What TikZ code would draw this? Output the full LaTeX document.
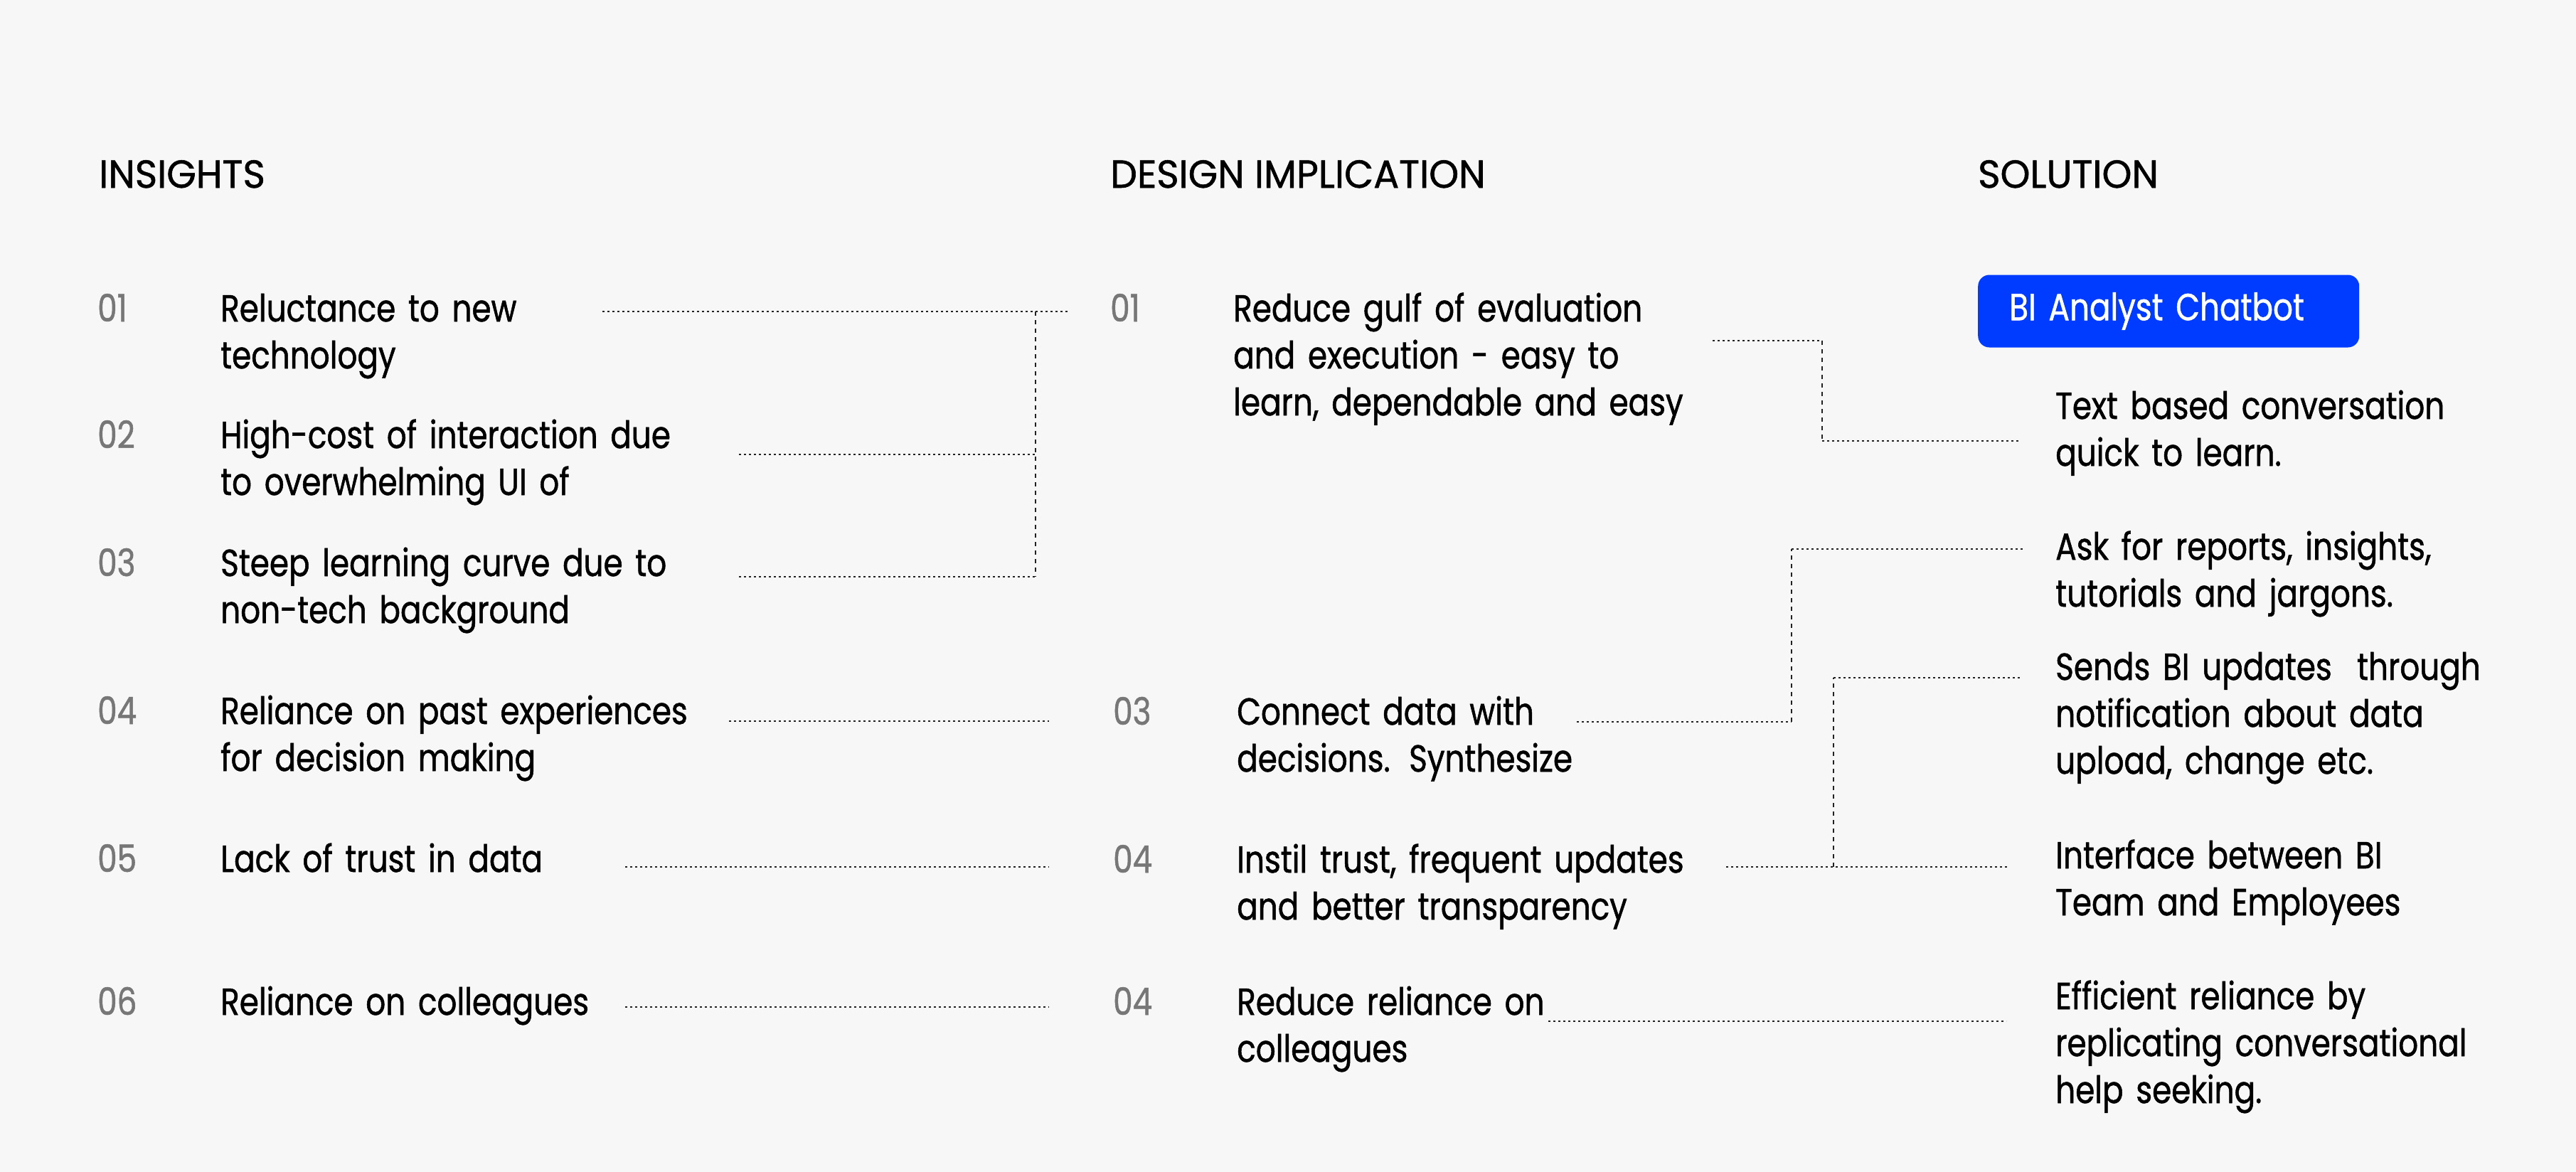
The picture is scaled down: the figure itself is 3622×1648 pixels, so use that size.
\documentclass[tikz,border=0pt]{standalone}
\usepackage{fontspec}
\setmainfont[FakeStretch=0.825,FakeBold=1]{Poppins}
\newfontfamily\headfam[FakeStretch=0.97,FakeBold=1]{Poppins}
\definecolor{bgc}{HTML}{F7F7F7}
\definecolor{numc}{HTML}{777777}
\definecolor{linec}{HTML}{222222}
\definecolor{blueb}{HTML}{003CFF}
\newcommand\bodyfnt{\fontsize{53}{66}\selectfont}
\newcommand\headfnt{\headfam\fontsize{55}{66}\selectfont}
\begin{document}
\begin{tikzpicture}[x=1pt,y=-1pt,
  txt/.style={anchor=base west, inner sep=0pt, text width=900pt, align=left, font=\bodyfnt, text=black},
  num/.style={anchor=base west, inner sep=0pt, font=\bodyfnt, text=numc},
  head/.style={anchor=base west, inner sep=0pt, font=\headfnt, text=black},
  hdot/.style={draw=linec, line width=2.8pt, dash pattern=on 2.8pt off 4.2pt},
  vdash/.style={draw=linec, line width=2.2pt, dash pattern=on 6pt off 6pt}]
\useasboundingbox (0,0) rectangle (3622,1648);
\fill[bgc] (0,0) rectangle (3622,1648);

% headers
\node[head] (h1) at (139,264) {INSIGHTS};
\node[head] (h2) at (1561,264) {DESIGN IMPLICATION};
\node[head] (h3) at (2781,264) {SOLUTION};

% insights
\node[num] (n1) at (137,452) {01};
\node[txt] (i1) at (310,452) {Reluctance to new\\technology};
\node[num] (n2) at (137,630) {02};
\node[txt] (i2) at (310,630) {High-cost of interaction due\\to overwhelming UI of};
\node[num] (n3) at (137,810) {03};
\node[txt] (i3) at (310,810) {Steep learning curve due to\\non-tech background};
\node[num] (n4) at (137,1018) {04};
\node[txt] (i4) at (310,1018) {Reliance on past experiences\\for decision making};
\node[num] (n5) at (137,1226) {05};
\node[txt] (i5) at (310,1226) {Lack of trust in data};
\node[num] (n6) at (137,1427) {06};
\node[txt] (i6) at (310,1427) {Reliance on colleagues};

% design implications
\node[num] (d1n) at (1561,452) {01};
\node[txt] (d1) at (1734,452) {Reduce gulf of evaluation\\and execution - easy to\\learn, dependable and easy};
\node[num] (d3n) at (1565,1019) {03};
\node[txt] (d3) at (1739,1019) {Connect data with\\decisions. Synthesize};
\node[num] (d4n) at (1565,1227) {04};
\node[txt] (d4) at (1739,1227) {Instil trust, frequent updates\\and better transparency};
\node[num] (d5n) at (1565,1427) {04};
\node[txt] (d5) at (1739,1427) {Reduce reliance on\\colleagues};

% solution
\node[anchor=west, fill=blueb, rounded corners=16pt, minimum height=102pt, inner xsep=44pt, inner ysep=0pt,
      text width=448pt, align=left, font=\bodyfnt, text=white] (bot) at (2781,437.5) {\mbox{BI Analyst Chatbot}};
\node[txt] (s1) at (2890,589) {Text based conversation\\quick to learn.};
\node[txt] (s2) at (2890,787) {Ask for reports, insights,\\tutorials and jargons.};
\node[txt] (s3) at (2890,956) {Sends BI updates~ through\\notification about data\\upload, change etc.};
\node[txt] (s4) at (2890,1221) {Interface between BI\\Team and Employees};
\node[txt] (s5) at (2890,1419) {Efficient reliance by\\replicating conversational\\help seeking.};

% connector points
\coordinate (a1) at (847,438);  \coordinate (b1) at (1501,438);
\coordinate (j1) at (1456,438);
\coordinate (a2) at (1039,639); \coordinate (j2) at (1456,639);
\coordinate (a3) at (1039,811); \coordinate (j3) at (1456,811);
\coordinate (a4) at (1025,1014); \coordinate (b4) at (1475,1014);
\coordinate (a5) at (879,1219);  \coordinate (b5) at (1475,1219);
\coordinate (a6) at (879,1416);  \coordinate (b6) at (1475,1416);

\coordinate (m1a) at (2408,479); \coordinate (m1j) at (2562,479);
\coordinate (m1k) at (2562,620); \coordinate (m1b) at (2839,620);
\coordinate (m3a) at (2217,1015); \coordinate (m3j) at (2519,1015);
\coordinate (m3k) at (2519,772);  \coordinate (m3b) at (2844,772);
\coordinate (m4a) at (2427,1219); \coordinate (m4b) at (2822,1219);
\coordinate (m4j) at (2578,1219); \coordinate (m4k) at (2578,953);
\coordinate (m4c) at (2840,953);
\coordinate (m5a) at (2177,1436); \coordinate (m5b) at (2821,1436);

% connectors
\draw[hdot] (a1) -- (b1);
\draw[hdot] (a2) -- (j2);
\draw[hdot] (a3) -- (j3);
\draw[vdash] (j1) -- (j3);
\draw[hdot] (a4) -- (b4);
\draw[hdot] (a5) -- (b5);
\draw[hdot] (a6) -- (b6);

\draw[hdot] (m1a) -- (m1j);
\draw[vdash] (m1j) -- (m1k);
\draw[hdot] (m1k) -- (m1b);
\draw[hdot] (m3a) -- (m3j);
\draw[vdash] (m3j) -- (m3k);
\draw[hdot] (m3k) -- (m3b);
\draw[hdot] (m4a) -- (m4b);
\draw[vdash] (m4j) -- (m4k);
\draw[hdot] (m4k) -- (m4c);
\draw[hdot] (m5a) -- (m5b);
\end{tikzpicture}
\end{document}
